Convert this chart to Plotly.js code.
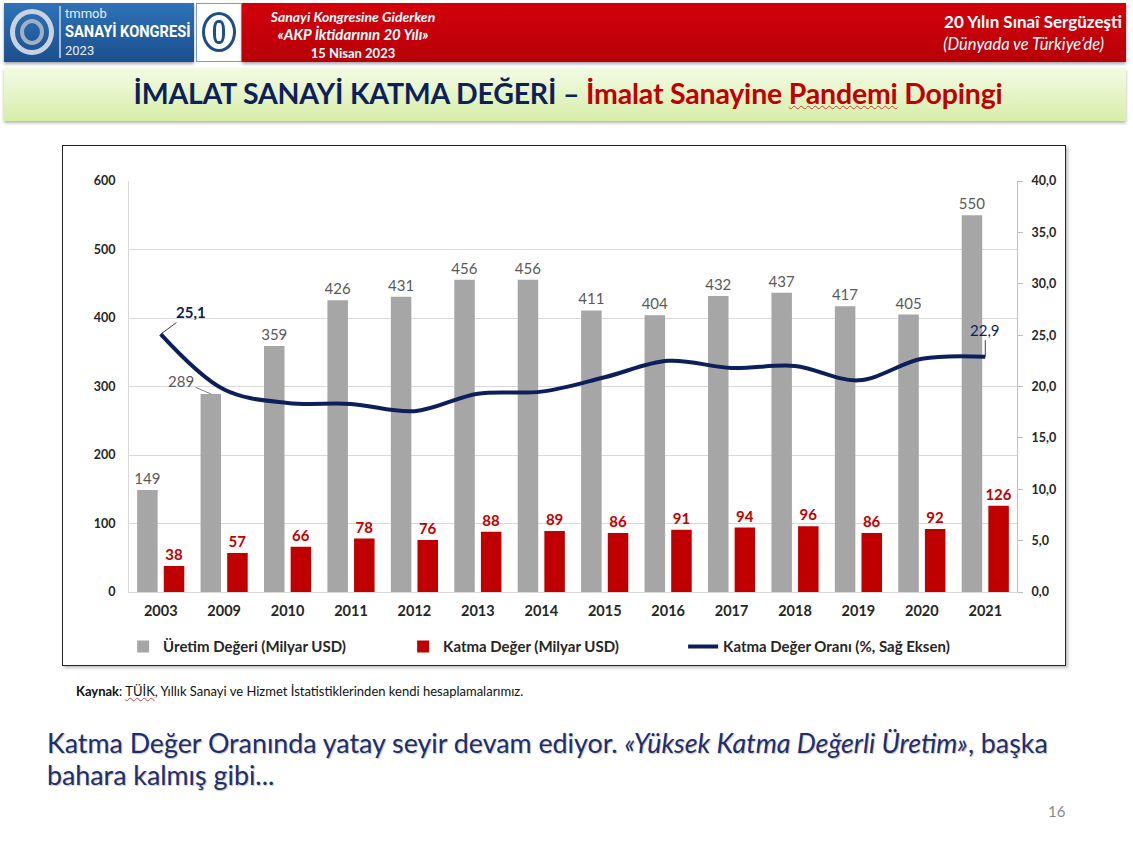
<!DOCTYPE html>
<html>
<head>
<meta charset="utf-8">
<script src="https://cdn.plot.ly/plotly-3.0.1.min.js"></script>
<style>
  html, body { margin:0; padding:0; background:#fff; }
  body { width:1133px; height:852px; position:relative; overflow:hidden; font-family: Lato, "Noto Sans", sans-serif; }
  .abs { position:absolute; }
  #hdrBlue { left:4px; top:3px; width:190px; height:59px; background:linear-gradient(#2f72b8,#1b4f8e); box-shadow:0 2px 3px rgba(0,0,0,0.35); }
  #hdrLogoBox { left:196px; top:3px; width:46px; height:59px; background:#fff; border:1px solid #7a9cc6; box-sizing:border-box; }
  #hdrRed { left:242px; top:3px; width:884px; height:59px; background:linear-gradient(#d3000b,#b70008); box-shadow:0 2px 3px rgba(0,0,0,0.35); }
  #titleBand { left:4px; top:68px; width:1122px; height:53px; background:linear-gradient(#f3fbe4,#d7eea9); box-shadow:0 2px 3px rgba(0,0,0,0.3); }
  #chartBox { left:62px; top:145px; width:1004px; height:521px; border:1px solid #222; box-sizing:border-box; box-shadow:2px 2px 3px rgba(0,0,0,0.25); background:#fff; }
  #chart { left:0; top:0; width:1002px; height:519px; }
  .nw { white-space:nowrap; }
</style>
</head>
<body>
<div id="hdrBlue" class="abs">
  <div class="abs" style="left:6px;top:6px;width:44px;height:46px;border-radius:50%;border:5px solid #c9d3df;box-sizing:border-box;"></div>
  <div class="abs" style="left:16px;top:16px;width:24px;height:26px;border-radius:50%;border:4px solid #9fb0c4;box-sizing:border-box;"></div>
  <div class="abs" style="left:55px;top:3px;width:2px;height:52px;background:#9fbbdc;"></div>
  <div class="abs nw" style="left:61px;top:3px;color:#e6eef8;font-family:Roboto,sans-serif;font-size:13px;line-height:15px;">tmmob</div>
  <div class="abs nw" style="left:61px;top:18px;color:#fff;font-family:Roboto,sans-serif;font-size:17px;line-height:20px;font-weight:bold;transform:scaleX(0.86);transform-origin:left center;">SANAYİ KONGRESİ</div>
  <div class="abs nw" style="left:61px;top:40px;color:#e6eef8;font-family:Roboto,sans-serif;font-size:13px;line-height:15px;">2023</div>
</div>
<div id="hdrLogoBox" class="abs">
  <div class="abs" style="left:5px;top:8px;width:34px;height:40px;border-radius:50%;border:3px solid #1d4d8a;box-sizing:border-box;"></div>
  <div class="abs" style="left:16px;top:16px;width:12px;height:24px;border-radius:40%;border:3px solid #1d4d8a;box-sizing:border-box;"></div>
</div>
<div id="hdrRed" class="abs">
  <div class="abs nw" style="left:0;width:222px;top:5px;text-align:center;color:#fff;font-size:14px;line-height:17px;font-weight:bold;font-style:italic;">Sanayi Kongresine Giderken</div>
  <div class="abs nw" style="left:0;width:222px;top:22px;text-align:center;color:#fff;font-size:15px;line-height:18px;font-weight:bold;font-style:italic;">«AKP İktidarının 20 Yılı»</div>
  <div class="abs nw" style="left:0;width:222px;top:42px;text-align:center;color:#fff;font-size:13px;line-height:16px;font-weight:bold;">15 Nisan 2023</div>
  <div class="abs nw" style="right:4px;top:9px;text-align:right;color:#fff;font-size:17px;line-height:20px;font-weight:bold;">20 Yılın Sınaî Sergüzeşti</div>
  <div class="abs nw" style="right:22px;top:32px;text-align:right;color:#fff;font-size:16.5px;line-height:19px;font-style:italic;">(Dünyada ve Türkiye’de)</div>
</div>
<div id="titleBand" class="abs">
  <div class="abs nw" style="left:0;width:1128px;top:7px;text-align:center;font-size:28.5px;line-height:36px;font-weight:bold;letter-spacing:-0.2px;">
    <span style="color:#0f1f5a;">İMALAT SANAYİ KATMA DEĞERİ</span><span style="color:#0f1f5a;"> – </span><span style="color:#c00000;">İmalat Sanayine <span style="text-decoration:underline wavy #d04040;text-decoration-thickness:1px;">Pandemi</span> Dopingi</span>
  </div>
</div>
<div id="chartBox" class="abs"><div id="chart" class="abs"></div></div>
<div class="abs nw" style="left:76px;top:683px;font-size:13px;line-height:16px;color:#111;"><b>Kaynak</b>: <span style="text-decoration:underline wavy #d04040;text-decoration-thickness:1px;">TÜİK</span>, Yıllık Sanayi ve Hizmet İstatistiklerinden kendi hesaplamalarımız.</div>
<div class="abs nw" style="left:47px;top:727px;font-size:26.8px;color:#1f2f6b;line-height:32px;text-shadow:1px 1px 1px rgba(0,0,0,0.25);">Katma Değer Oranında yatay seyir devam ediyor. <i>«Yüksek Katma Değerli Üretim»</i>, başka<br>bahara kalmış gibi...</div>
<div class="abs nw" style="left:1048px;top:802px;font-size:15px;color:#8a8a8a;">16</div>

<script>
// ---- data ----
const years = ['2003','2009','2010','2011','2012','2013','2014','2015','2016','2017','2018','2019','2020','2021'];
const uretimDegeri = [149, 289, 359, 426, 431, 456, 456, 411, 404, 432, 437, 417, 405, 550];
const katmaDeger = [38, 57, 66, 78, 76, 88, 89, 86, 91, 94, 96, 86, 92, 126];
const katmaDegerOrani = [25.1, 19.7, 18.4, 18.3, 17.6, 19.3, 19.5, 20.9, 22.5, 21.8, 22.0, 20.6, 22.7, 22.9];
const seriesNames = ['Üretim Değeri (Milyar USD)', 'Katma Değer (Milyar USD)', 'Katma Değer Oranı (%, Sağ Eksen)'];
const leftTicks = [0, 100, 200, 300, 400, 500, 600];
const rightTicks = [0, 5, 10, 15, 20, 25, 30, 35, 40];

const FONT = 'Lato, "Noto Sans", sans-serif';
const i2009 = years.indexOf('2009');
const last = years.length - 1;
const grayText = uretimDegeri.map((v, i) => i === i2009 ? ' ' : String(v));

const traces = [
  { type:'bar', name:seriesNames[0], x:years, y:uretimDegeri, marker:{color:'#a6a6a6'},
    text:grayText, textposition:'outside', constraintext:'none',
    textfont:{family:FONT, size:15, color:'#595959'}, cliponaxis:false, hoverinfo:'x+y' },
  { type:'bar', name:seriesNames[1], x:years, y:katmaDeger, marker:{color:'#c00000'},
    text:katmaDeger.map(String), textposition:'outside', constraintext:'none',
    textfont:{family:FONT, size:15, color:'#c00000', weight:'bold'}, cliponaxis:false, hoverinfo:'x+y' },
  { type:'scatter', mode:'lines', name:seriesNames[2], x:years, y:katmaDegerOrani, yaxis:'y2',
    line:{color:'#0c1f5b', width:4, shape:'spline', smoothing:1.0}, hoverinfo:'x+y' }
];

const annotations = [
  { x:i2009, y:uretimDegeri[i2009], xref:'x', yref:'y', xshift:-13, text:String(uretimDegeri[i2009]),
    showarrow:true, arrowhead:0, arrowwidth:1, arrowcolor:'#7f7f7f', ax:-30, ay:-13, standoff:0,
    font:{family:FONT, size:15, color:'#595959'} },
  { x:0, y:katmaDegerOrani[0], xref:'x', yref:'y2', text:'<b>' + katmaDegerOrani[0].toFixed(1).replace('.', ',') + '</b>',
    showarrow:true, arrowhead:0, arrowwidth:1, arrowcolor:'#404040', ax:30, ay:-22, standoff:0,
    font:{family:FONT, size:15, color:'#0c1f5b'} },
  { x:last, y:katmaDegerOrani[last], xref:'x', yref:'y2', text:katmaDegerOrani[last].toFixed(1).replace('.', ','),
    showarrow:true, arrowhead:0, arrowwidth:1, arrowcolor:'#404040', ax:0, ay:-27, standoff:0,
    font:{family:FONT, size:15, color:'#0c1f5b'} }
];

const layout = {
  width:1002, height:519,
  margin:{l:66, r:48, t:35, b:73},
  paper_bgcolor:'#ffffff', plot_bgcolor:'#ffffff',
  separators:',.',
  font:{family:FONT, size:13, color:'#262626'},
  barmode:'group', bargap:0.16, bargroupgap:0.23,
  showlegend:true,
  legend:{orientation:'h', xref:'container', yref:'container', x:0.06, xanchor:'left', y:0.035, yanchor:'middle',
          font:{family:FONT, size:15, color:'#262626', weight:'bold'},
          entrywidth:235, entrywidthmode:'pixels', itemwidth:30, traceorder:'normal'},
  xaxis:{type:'category', range:[-0.5, years.length - 0.5], autorange:false, showgrid:false, showline:true, linecolor:'#d9d9d9', linewidth:1,
         ticks:'', tickfont:{family:FONT, size:14.5, color:'#262626', weight:'bold'}, ticklabelstandoff:6},
  yaxis:{range:[0,600], autorange:false, tickvals:leftTicks, showgrid:true, gridcolor:'#d9d9d9', gridwidth:1,
         showline:true, linecolor:'#d9d9d9', zeroline:false, ticks:'',
         tickfont:{family:FONT, size:12.5, color:'#262626', weight:'bold'}, ticklabelstandoff:10},
  yaxis2:{range:[0,40], autorange:false, tickvals:rightTicks, tickformat:'.1f', overlaying:'y', side:'right',
          showgrid:false, showline:true, linecolor:'#bfbfbf', zeroline:false, ticks:'outside', ticklen:5, tickcolor:'#bfbfbf',
          tickfont:{family:FONT, size:12.5, color:'#262626', weight:'bold'}, ticklabelstandoff:6},
  annotations:annotations
};

Plotly.newPlot('chart', traces, layout, {displayModeBar:false, staticPlot:true});
</script>
</body>
</html>
